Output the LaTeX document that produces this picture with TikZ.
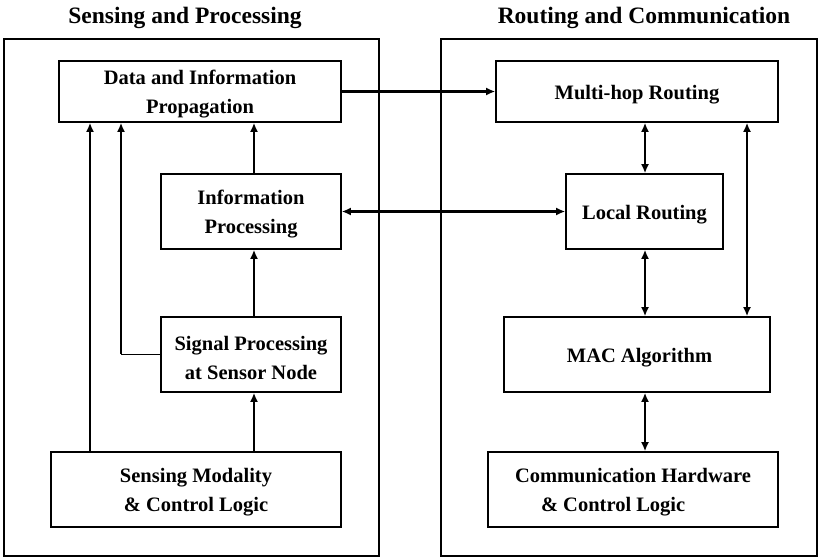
\documentclass[tikz,border=0pt]{standalone}
\usepackage{fontspec}
\setmainfont{Liberation Serif}
\usetikzlibrary{arrows.meta}
\newcommand\tstr{\rule{0pt}{20.5pt}}
\begin{document}
\begin{tikzpicture}[x=1pt,y=-1pt,
  outer/.style={draw, line width=1.4pt, minimum width=#1, inner sep=0pt},
  blk/.style={draw, line width=1.6pt, inner sep=0pt, font=\fontsize{20.5}{29}\selectfont\bfseries, align=center},
  ttl/.style={font=\fontsize{23.5}{28}\selectfont\bfseries, anchor=base},
  arr/.style={line width=2.2pt, -{Latex[length=9pt,width=8pt]}},
  darr/.style={line width=2.2pt, {Latex[length=9pt,width=8pt]}-{Latex[length=9pt,width=8pt]}},
  thinln/.style={line width=1.3pt}]
\useasboundingbox (0,0) rectangle (818,557);
\node[ttl] (t1) at (185,23) {Sensing and Processing};
\node[ttl] (t2) at (644,23) {Routing and Communication};
\node[outer=375pt, minimum height=517pt] (ol) at (191.5,297.5) {};
\node[outer=376pt, minimum height=517pt] (or) at (629,297.5) {};
% left boxes
\node[blk, minimum width=282pt, minimum height=61pt] (data) at (200,91.5) {\tstr Data and Information\\Propagation};
\node[blk, minimum width=180pt, minimum height=75pt] (info) at (251,211.5) {\tstr Information\\Processing};
\node[blk, minimum width=180pt, minimum height=75pt] (sig) at (251,354.5) {\tstr Signal Processing\\at Sensor Node};
\node[blk, minimum width=290pt, minimum height=75pt] (sens) at (196,489.5) {\tstr Sensing Modality\\\& Control Logic};
% right boxes
\node[blk, minimum width=282pt, minimum height=61pt] (multi) at (637,91.5) {\tstr Multi-hop Routing};
\node[blk, minimum width=157pt, minimum height=75pt] (local) at (644.5,211.5) {\tstr Local Routing};
\node[blk, minimum width=266pt, minimum height=75pt] (mac) at (637,354.5) {\tstr\hspace*{5pt}MAC Algorithm};
\node[blk, minimum width=290pt, minimum height=75pt, align=left] (comm) at (633,489.5) {\tstr Communication Hardware\\\hspace*{26pt}\& Control Logic};
% helper columns
\coordinate (c1) at (90,0);
\coordinate (c2) at (121,0);
\coordinate (c3) at (254,0);
\coordinate (c4) at (645,0);
\coordinate (c5) at (747,0);
% left connectors
\draw[arr] (sens.north -| c1) -- (data.south -| c1);
\draw[thinln] (sig.west) -- (sig.west -| c2);
\draw[arr] ([yshift=0.65pt]sig.west -| c2) -- (data.south -| c2);
\draw[arr] (info.north -| c3) -- (data.south -| c3);
\draw[arr] (sig.north -| c3) -- (info.south -| c3);
\draw[arr] (sens.north -| c3) -- (sig.south -| c3);
% cross connectors
\draw[arr] (data.east) -- (multi.west);
\draw[darr] (info.east) -- (local.west);
% right connectors
\draw[darr] (multi.south -| c4) -- (local.north -| c4);
\draw[darr] (local.south -| c4) -- (mac.north -| c4);
\draw[darr] (mac.south -| c4) -- (comm.north -| c4);
\draw[darr] (multi.south -| c5) -- (mac.north -| c5);
\end{tikzpicture}
\end{document}
